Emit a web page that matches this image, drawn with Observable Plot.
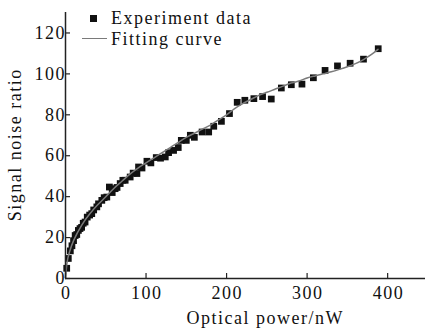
<!DOCTYPE html>
<html><head><meta charset="utf-8">
<script src="https://cdn.jsdelivr.net/npm/d3@7"></script>
<script src="https://cdn.jsdelivr.net/npm/@observablehq/plot@0.6"></script>
<style>
body{margin:0;background:#fff;}
#wrap{position:relative;width:425px;height:329px;font-family:"Liberation Serif","DejaVu Serif",serif;color:#111;}
#legend{position:absolute;left:0;top:0;font-size:18px;letter-spacing:1.5px;line-height:1;}
#legend .row{position:absolute;white-space:nowrap;}
#legend .sq{position:absolute;width:7px;height:7px;background:#111;}
#legend .ln{position:absolute;width:25px;height:0;border-top:1.5px solid #7a7a7a;}
</style></head><body><div id="wrap"><div id="legend"></div></div>
<script>
// Experiment data: optical power (nW) vs signal noise ratio
const powerX = [1.5, 3.5, 6, 8, 10, 12, 14, 16, 18, 20, 22, 24.3, 27, 30, 32.6, 35, 38.9, 41, 45.1, 48, 51.3, 54.5, 58, 61.6, 64, 67.9, 71.2, 74.1, 80.3, 84, 88.7, 90.7, 95, 101.1, 106, 112.7, 118, 123.9, 128, 134.2, 140, 143.8, 150, 155, 160, 169.6, 177.8, 184.1, 193.6, 203.6, 213.2, 222.7, 233.9, 244.7, 255.5, 268, 280.4, 293.6, 307.8, 322.3, 337.7, 353.4, 370, 388.3];
const snrY = [5, 9.8, 13.5, 16, 18.5, 21, 21.5, 23.5, 24.4, 25, 27, 27.6, 30, 31, 31.7, 33.5, 35, 36.5, 38.2, 39.5, 39.8, 44.7, 42, 43.9, 44.5, 46.4, 48, 48, 49.6, 51.5, 51.3, 54.5, 54, 57.3, 56.5, 59.1, 58.8, 59.4, 61.5, 62.6, 64, 67.5, 67.5, 70, 69, 71.6, 71.6, 74.4, 76.8, 80.6, 86.1, 87.1, 87.9, 88.9, 87.7, 93.1, 94.7, 95.0, 98.1, 101.7, 103.9, 105.2, 107.2, 112.3];
// Fitting curve
const fitX = [0, 2, 5, 10, 20, 30, 40, 50, 60, 70, 80, 90, 100, 110, 120, 130, 140, 150, 160, 170, 180, 190, 200, 210, 220, 230, 240, 250, 260, 270, 280, 290, 300, 310, 320, 330, 340, 350, 360, 370, 380, 388];
const fitY = [0, 8, 13, 18.5, 26, 31.5, 36, 40, 44, 47.5, 51, 54, 56.5, 59, 61.5, 64, 66.5, 69, 71, 73, 75, 77.5, 80, 83, 85.5, 87.5, 89.5, 91, 92.5, 94, 95.5, 96.5, 98, 99, 100, 101, 102.2, 103.5, 105, 107, 109.5, 112];
const xTicks = [0, 100, 200, 300, 400];
const yTicks = [0, 20, 40, 60, 80, 100, 120];
const xTitle = "Optical power/nW";
const yTitle = "Signal noise ratio";
const legendLabels = ["Experiment data", "Fitting curve"];

const points = powerX.map((x, i) => ({x, y: snrY[i]}));
const fit = fitX.map((x, i) => ({x, y: fitY[i]}));

const chart = Plot.plot({
  width: 425, height: 329,
  marginLeft: 65, marginRight: 0, marginTop: 12, marginBottom: 51,
  style: {fontFamily: '"Liberation Serif","DejaVu Serif",serif', fontSize: "18px", color: "#111", background: "#fff"},
  x: {domain: [0, 447]},
  y: {domain: [0, 130]},
  marks: [
    Plot.dot(points, {x: "x", y: "y", symbol: "square", r: 3.8, fill: "#111", stroke: "none"}),
    Plot.line(fit, {x: "x", y: "y", curve: "natural", stroke: "#7a7a7a", strokeWidth: 1.5}),
    Plot.ruleY([0], {stroke: "#222", strokeWidth: 1.5}),
    Plot.ruleX([0], {stroke: "#222", strokeWidth: 1.5}),
    Plot.axisX({ticks: xTicks, tickSize: 5, dy: -5, tickPadding: 8, label: null, stroke: "#222", strokeWidth: 1.2}),
    Plot.axisY({ticks: yTicks, tickSize: 5, dx: 5, tickPadding: 1, label: null, stroke: "#222", strokeWidth: 1.2}),
    Plot.axisX({ticks: [], tickSize: 0, label: xTitle, labelAnchor: "center", labelOffset: 45, labelArrow: "none"}),
    Plot.axisY({ticks: [], tickSize: 0, label: yTitle, labelAnchor: "center", labelOffset: 57, labelArrow: "none"})
  ]
});
document.getElementById("wrap").prepend(chart);
// wider letter spacing as in the reference typography
chart.querySelectorAll("text").forEach(t => {
  const n = t.textContent.length;
  const len = t.getComputedTextLength();
  if (n > 1 && len > 0) {
    t.setAttribute("textLength", (len + 1.5 * (n - 1)).toFixed(1));
    t.setAttribute("lengthAdjust", "spacing");
  }
});
const xl = chart.querySelector('[aria-label="x-axis label"]');
if (xl) xl.setAttribute("transform", ((xl.getAttribute("transform") || "") + " translate(19,0)").trim());
const leg = document.getElementById("legend");
const r1 = document.createElement("div"); r1.className = "row"; r1.style.left = "111px"; r1.style.top = "9px"; r1.textContent = legendLabels[0];
const s1 = document.createElement("div"); s1.className = "sq"; s1.style.left = "90px"; s1.style.top = "15px";
const r2 = document.createElement("div"); r2.className = "row"; r2.style.left = "111px"; r2.style.top = "30px"; r2.textContent = legendLabels[1];
const l2 = document.createElement("div"); l2.className = "ln"; l2.style.left = "82px"; l2.style.top = "38px";
leg.append(s1, r1, l2, r2);
</script>
</body></html>
